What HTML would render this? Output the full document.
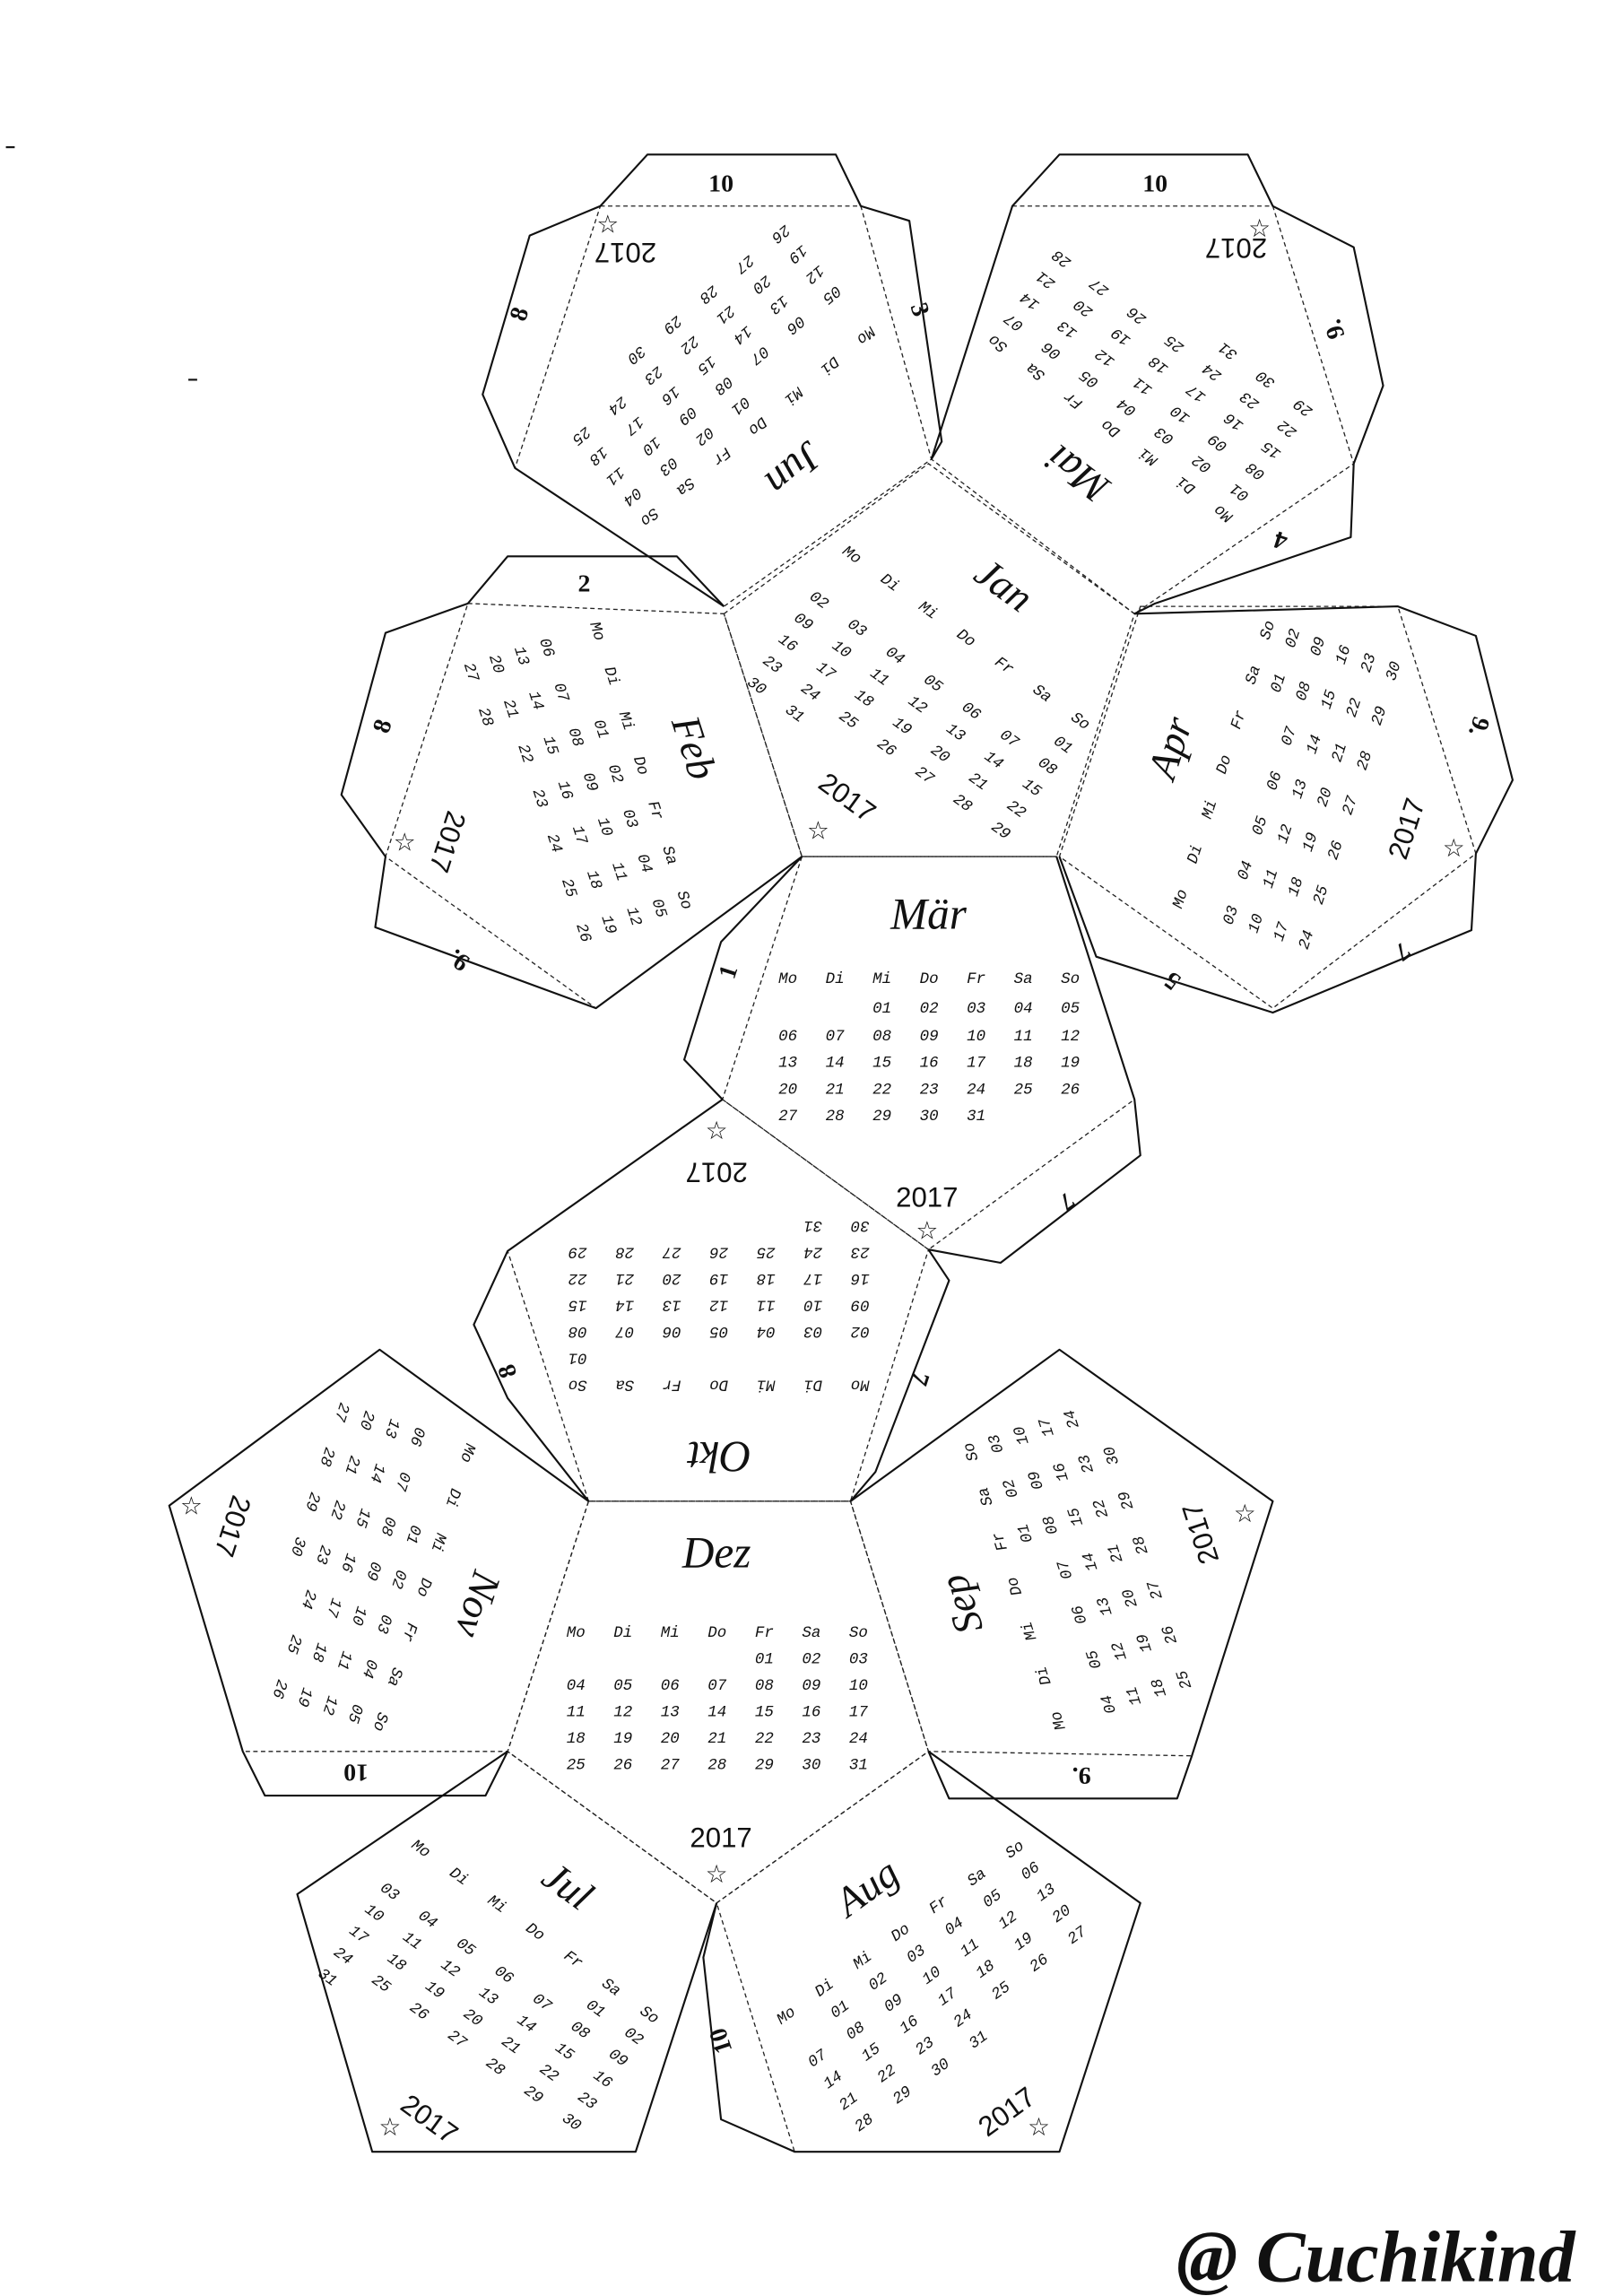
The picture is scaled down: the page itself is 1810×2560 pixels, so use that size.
<!DOCTYPE html>
<html><head><meta charset="utf-8"><style>
html,body{margin:0;padding:0;background:#fff;}
svg{display:block}
.d{fill:none;stroke:#222;stroke-width:0.8;stroke-dasharray:3 2.2}
.s{fill:none;stroke:#111;stroke-width:1.3;stroke-linejoin:round}
.g text{font-family:"Liberation Mono",monospace;font-size:10.67px;font-style:italic;fill:#111;white-space:pre}
.n{font-family:"Liberation Serif",serif;font-weight:bold;font-size:17px;fill:#111;text-anchor:middle}
.y{font-family:"Liberation Sans",sans-serif;font-size:19px;fill:#111;text-anchor:middle}
.st{font-family:"DejaVu Sans",sans-serif;font-size:17px;fill:#111;text-anchor:middle}
</style></head><body>
<svg width="1810" height="2560" viewBox="0 0 1103 1560" xmlns="http://www.w3.org/2000/svg">
<rect width="1103" height="1560" fill="#fff"/>
<g class="d">
<polygon points="492,417 631,315 771,417 718,582 545,582"/>
<polygon points="545,582 718,582 771,747 631,849 491,747"/>
<polygon points="491,747 631,849 578,1020 400,1020 345,850"/>
<polygon points="400,1020 578,1020 631,1190 487,1293 345,1190"/>
<polygon points="408,140 585,140 633,312 492,412 350,318"/>
<polygon points="688,140 865,140 920,315 771,417 633,312"/>
<polygon points="318,410 492,417 545,582 405,685 262,582"/>
<polygon points="775,412 950,412 1003,580 865,685 720,582"/>
<polygon points="115,1023 258,917 400,1020 345,1190 165,1190"/>
<polygon points="578,1020 720,917 865,1020 810,1193 631,1190"/>
<polygon points="202,1287 345,1190 487,1293 432,1462 253,1462"/>
<polygon points="487,1293 631,1190 775,1293 720,1462 540,1462"/>
</g>
<g class="s">
<polyline points="492,412 350,318 328,268 360,160 408,140 440,105 568,105 585,140 618,150 640,300 633,312"/>
<polyline points="633,312 688,140 720,105 848,105 865,140 920,168 940,262 920,315 918,365 785,410 771,417"/>
<polyline points="492,412 460,378 345,378 318,410 262,430 232,540 262,582 255,630 405,685 545,582"/>
<polyline points="771,417 950,412 1003,432 1028,530 1003,580 1000,632 865,688 745,650 720,582"/>
<polyline points="545,582 490,640 465,720 491,747"/>
<polyline points="718,582 771,747 775,785 680,858 631,849"/>
<polyline points="491,747 345,850 322,900 345,950 400,1020"/>
<polyline points="631,849 645,870 595,1000 578,1020"/>
<polyline points="400,1020 258,917 115,1023 165,1190 180,1220 330,1220 345,1190"/>
<polyline points="578,1020 720,917 865,1020 810,1193 800,1222 645,1222 631,1190"/>
<polyline points="345,1190 202,1287 253,1462 432,1462 487,1293"/>
<polyline points="631,1190 775,1293 720,1462 540,1462 490,1440 478,1330 487,1293"/>
<line x1="4" y1="100" x2="10" y2="100"/><line x1="128" y1="258" x2="134" y2="258"/>
</g>

<g class="g">
<g transform="translate(631,468) rotate(36)">
<text x="0" y="-78" style="font-family:'Liberation Serif',serif;font-size:28px;text-anchor:middle">Jan</text>
<text x="-102" y="-40">Mo   Di   Mi   Do   Fr   Sa   So</text>
<text x="-102" y="-20">                              01</text>
<text x="-102" y="-2">02   03   04   05   06   07   08</text>
<text x="-102" y="16">09   10   11   12   13   14   15</text>
<text x="-102" y="34">16   17   18   19   20   21   22</text>
<text x="-102" y="52">23   24   25   26   27   28   29</text>
<text x="-102" y="70">30   31</text>
</g>
<g transform="translate(631,701)">
<text x="0" y="-70" style="font-family:'Liberation Serif',serif;font-size:30px;text-anchor:middle">Mär</text>
<text x="-102" y="-33">Mo   Di   Mi   Do   Fr   Sa   So</text>
<text x="-102" y="-13">          01   02   03   04   05</text>
<text x="-102" y="6">06   07   08   09   10   11   12</text>
<text x="-102" y="24">13   14   15   16   17   18   19</text>
<text x="-102" y="42">20   21   22   23   24   25   26</text>
<text x="-102" y="60">27   28   29   30   31</text>
</g>
<g transform="translate(487,1135)">
<text x="0" y="-70" style="font-family:'Liberation Serif',serif;font-size:30px;text-anchor:middle">Dez</text>
<text x="-102" y="-23">Mo   Di   Mi   Do   Fr   Sa   So</text>
<text x="-102" y="-5">                    01   02   03</text>
<text x="-102" y="13">04   05   06   07   08   09   10</text>
<text x="-102" y="31">11   12   13   14   15   16   17</text>
<text x="-102" y="49">18   19   20   21   22   23   24</text>
<text x="-102" y="67">25   26   27   28   29   30   31</text>
</g>
<g transform="translate(489,900) rotate(180)">
<text x="0" y="-80" style="font-family:'Liberation Serif',serif;font-size:30px;text-anchor:middle">Okt</text>
<text x="-102" y="-38">Mo   Di   Mi   Do   Fr   Sa   So</text>
<text x="-102" y="-20">                              01</text>
<text x="-102" y="-2">02   03   04   05   06   07   08</text>
<text x="-102" y="16">09   10   11   12   13   14   15</text>
<text x="-102" y="34">16   17   18   19   20   21   22</text>
<text x="-102" y="52">23   24   25   26   27   28   29</text>
<text x="-102" y="70">30   31</text>
</g>
<g transform="translate(404,530) rotate(72)">
<text x="0" y="-62" style="font-family:'Liberation Serif',serif;font-size:28px;text-anchor:middle">Feb</text>
<text x="-102" y="-30">Mo   Di   Mi   Do   Fr   Sa   So</text>
<text x="-102" y="-12">          01   02   03   04   05</text>
<text x="-102" y="6">06   07   08   09   10   11   12</text>
<text x="-102" y="24">13   14   15   16   17   18   19</text>
<text x="-102" y="42">20   21   22   23   24   25   26</text>
<text x="-102" y="60">27   28</text>
</g>
<g transform="translate(863,530) rotate(-72)">
<text x="0" y="-62" style="font-family:'Liberation Serif',serif;font-size:28px;text-anchor:middle">Apr</text>
<text x="-102" y="-30">Mo   Di   Mi   Do   Fr   Sa   So</text>
<text x="-102" y="-12">                         01   02</text>
<text x="-102" y="6">03   04   05   06   07   08   09</text>
<text x="-102" y="24">10   11   12   13   14   15   16</text>
<text x="-102" y="42">17   18   19   20   21   22   23</text>
<text x="-102" y="60">24   25   26   27   28   29   30</text>
</g>
<g transform="translate(494,264) rotate(140)">
<text x="0" y="-62" style="font-family:'Liberation Serif',serif;font-size:28px;text-anchor:middle">Jun</text>
<text x="-102" y="-30">Mo   Di   Mi   Do   Fr   Sa   So</text>
<text x="-102" y="-12">               01   02   03   04</text>
<text x="-102" y="6">05   06   07   08   09   10   11</text>
<text x="-102" y="24">12   13   14   15   16   17   18</text>
<text x="-102" y="42">19   20   21   22   23   24   25</text>
<text x="-102" y="60">26   27   28   29   30</text>
</g>
<g transform="translate(775,265) rotate(-143)">
<text x="0" y="-62" style="font-family:'Liberation Serif',serif;font-size:28px;text-anchor:middle">Mai</text>
<text x="-102" y="-30">Mo   Di   Mi   Do   Fr   Sa   So</text>
<text x="-102" y="-12">01   02   03   04   05   06   07</text>
<text x="-102" y="6">08   09   10   11   12   13   14</text>
<text x="-102" y="24">15   16   17   18   19   20   21</text>
<text x="-102" y="42">22   23   24   25   26   27   28</text>
<text x="-102" y="60">29   30   31</text>
</g>
<g transform="translate(257,1068) rotate(108)">
<text x="0" y="-62" style="font-family:'Liberation Serif',serif;font-size:28px;text-anchor:middle">Nov</text>
<text x="-102" y="-30">Mo   Di   Mi   Do   Fr   Sa   So</text>
<text x="-102" y="-12">          01   02   03   04   05</text>
<text x="-102" y="6">06   07   08   09   10   11   12</text>
<text x="-102" y="24">13   14   15   16   17   18   19</text>
<text x="-102" y="42">20   21   22   23   24   25   26</text>
<text x="-102" y="60">27   28   29   30</text>
</g>
<g transform="translate(721,1068) rotate(-108)">
<text x="0" y="-62" style="font-family:'Liberation Serif',serif;font-size:28px;text-anchor:middle">Sep</text>
<text x="-102" y="-30">Mo   Di   Mi   Do   Fr   Sa   So</text>
<text x="-102" y="-12">                    01   02   03</text>
<text x="-102" y="6">04   05   06   07   08   09   10</text>
<text x="-102" y="24">11   12   13   14   15   16   17</text>
<text x="-102" y="42">18   19   20   21   22   23   24</text>
<text x="-102" y="60">25   26   27   28   29   30</text>
</g>
<g transform="translate(344,1339) rotate(36)">
<text x="0" y="-62" style="font-family:'Liberation Serif',serif;font-size:28px;text-anchor:middle">Jul</text>
<text x="-102" y="-30">Mo   Di   Mi   Do   Fr   Sa   So</text>
<text x="-102" y="-12">                         01   02</text>
<text x="-102" y="6">03   04   05   06   07   08   09</text>
<text x="-102" y="24">10   11   12   13   14   15   16</text>
<text x="-102" y="42">17   18   19   20   21   22   23</text>
<text x="-102" y="60">24   25   26   27   28   29   30</text>
<text x="-102" y="78">31</text>
</g>
<g transform="translate(631,1340) rotate(-36)">
<text x="0" y="-62" style="font-family:'Liberation Serif',serif;font-size:28px;text-anchor:middle">Aug</text>
<text x="-102" y="-30">Mo   Di   Mi   Do   Fr   Sa   So</text>
<text x="-102" y="-12">     01   02   03   04   05   06</text>
<text x="-102" y="6">07   08   09   10   11   12   13</text>
<text x="-102" y="24">14   15   16   17   18   19   20</text>
<text x="-102" y="42">21   22   23   24   25   26   27</text>
<text x="-102" y="60">28   29   30   31</text>
</g>
</g>

<text class="n" x="490" y="130">10</text>
<text class="n" transform="translate(358,215) rotate(-72)">8</text>
<text class="n" transform="translate(620,212) rotate(72)">3</text>
<text class="n" x="785" y="130">10</text>
<text class="n" transform="translate(912,222) rotate(-108)">9.</text>
<text class="n" transform="translate(872,362) rotate(-162)">4</text>
<text class="n" x="397" y="402">2</text>
<text class="n" transform="translate(265,495) rotate(-72)">8</text>
<text class="n" transform="translate(315,648) rotate(-144)">9.</text>
<text class="n" transform="translate(1000,492) rotate(108)">9.</text>
<text class="n" transform="translate(950,642) rotate(144)">7</text>
<text class="n" transform="translate(800,662) rotate(216)">5</text>
<text class="n" transform="translate(500,662) rotate(-72)">1</text>
<text class="n" transform="translate(722,812) rotate(144)">7</text>
<text class="n" transform="translate(350,930) rotate(-108)">8</text>
<text class="n" transform="translate(620,935) rotate(108)">7</text>
<text class="n" transform="translate(242,1199) rotate(180)">10</text>
<text class="n" transform="translate(735,1201) rotate(180)">9.</text>
<text class="n" transform="translate(495,1385) rotate(-108)">10</text>

<text class="y" transform="translate(572,547) rotate(36)">2017</text><text class="st" x="556" y="570">☆</text>
<text class="y" transform="translate(298,570) rotate(108)">2017</text><text class="st" x="275" y="578">☆</text>
<text class="y" transform="translate(962,565) rotate(-72)">2017</text><text class="st" x="988" y="582">☆</text>
<text class="y" transform="translate(425,165) rotate(180)">2017</text><text class="st" x="413" y="158">☆</text>
<text class="y" transform="translate(840,162) rotate(180)">2017</text><text class="st" x="856" y="161">☆</text>
<text class="y" x="630" y="820">2017</text><text class="st" x="630" y="842">☆</text>
<text class="y" transform="translate(487,790) rotate(180)">2017</text><text class="st" x="487" y="774">☆</text>
<text class="y" transform="translate(152,1035) rotate(108)">2017</text><text class="st" x="130" y="1029">☆</text>
<text class="y" transform="translate(822,1040) rotate(-108)">2017</text><text class="st" x="846" y="1034">☆</text>
<text class="y" x="490" y="1255">2017</text><text class="st" x="487" y="1279">☆</text>
<text class="y" transform="translate(288,1445) rotate(36)">2017</text><text class="st" x="265" y="1451">☆</text>
<text class="y" transform="translate(688,1440) rotate(-36)">2017</text><text class="st" x="706" y="1451">☆</text>

<text x="935" y="1550" style="font-family:'Liberation Serif',serif;font-style:italic;font-weight:bold;font-size:50px;fill:#111;text-anchor:middle">@ Cuchikind</text>
</svg>
</body></html>
